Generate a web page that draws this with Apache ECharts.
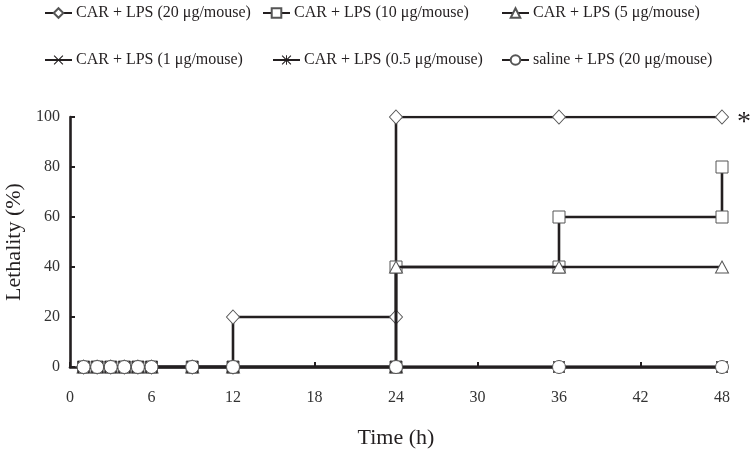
<!DOCTYPE html>
<html>
<head>
<meta charset="utf-8">
<script src="https://cdn.jsdelivr.net/npm/echarts@6/dist/echarts.min.js"></script>
<style>html,body{margin:0;padding:0;background:#fff}#c{width:755px;height:455px}</style>
</head>
<body>
<div id="c"></div>
<script>
// ---- data ----
const seriesNames = [
  'CAR + LPS (20 μg/mouse)',
  'CAR + LPS (10 μg/mouse)',
  'CAR + LPS (5 μg/mouse)',
  'CAR + LPS (1 μg/mouse)',
  'CAR + LPS (0.5 μg/mouse)',
  'saline + LPS (20 μg/mouse)'
];
const t20 = [1, 2, 3, 4, 5, 6, 9, 12, 12, 24, 24, 36, 48];
const v20 = [0, 0, 0, 0, 0, 0, 0, 0, 20, 20, 100, 100, 100];
const t10 = [1, 2, 3, 4, 5, 6, 9, 12, 24, 24, 36, 36, 48, 48];
const v10 = [0, 0, 0, 0, 0, 0, 0, 0, 0, 40, 40, 60, 60, 80];
const t5 = [1, 2, 3, 4, 5, 6, 9, 12, 24, 24, 36, 48];
const v5 = [0, 0, 0, 0, 0, 0, 0, 0, 0, 40, 40, 40];
const t1 = [1, 2, 3, 4, 5, 6, 9, 12, 24, 36, 48];
const v1 = [0, 0, 0, 0, 0, 0, 0, 0, 0, 0, 0];
const t05 = [1, 2, 3, 4, 5, 6, 9, 12, 24, 36, 48];
const v05 = [0, 0, 0, 0, 0, 0, 0, 0, 0, 0, 0];
const tSal = [1, 2, 3, 4, 5, 6, 9, 12, 24, 36, 48];
const vSal = [0, 0, 0, 0, 0, 0, 0, 0, 0, 0, 0];
const xTicks = [0, 6, 12, 18, 24, 30, 36, 42, 48];
const yTicks = [0, 20, 40, 60, 80, 100];
const significanceMark = '*';

// ---- styling ----
const FONT = '"Liberation Serif", "Times New Roman", serif';
const INK = '#231f20';
const X_PATH = 'path://M0,1.6 L1.6,0 L10,8.4 L18.4,0 L20,1.6 L11.6,10 L20,18.4 L18.4,20 L10,11.6 L1.6,20 L0,18.4 L8.4,10 Z';
const STAR_PATH = 'path://M0,1.6 L1.6,0 L10,8.4 L18.4,0 L20,1.6 L11.6,10 L20,18.4 L18.4,20 L10,11.6 L1.6,20 L0,18.4 L8.4,10 Z M9,0 L11,0 L11,20 L9,20 Z M0,9 L20,9 L20,11 L0,11 Z';

function pairs(t, v) { return t.map((x, i) => [x, v[i]]); }

const openMarker = { color: '#fff', borderColor: '#555', borderWidth: 1 };
const solidMarker = { color: INK, borderWidth: 0 };

const d20 = pairs(t20, v20);
d20[d20.length - 1] = {
  value: d20[d20.length - 1],
  label: {
    show: true, position: 'right', distance: 8, formatter: significanceMark,
    fontFamily: FONT, fontSize: 28, color: INK, offset: [0, 6]
  }
};

const defs = [
  { data: d20, symbol: 'diamond', size: [13, 14], item: openMarker },
  { data: pairs(t10, v10), symbol: 'rect', size: 12, item: openMarker },
  { data: pairs(t5, v5), symbol: 'triangle', size: [13, 12], item: openMarker },
  { data: pairs(t1, v1), symbol: X_PATH, size: 12, item: solidMarker },
  { data: pairs(t05, v05), symbol: STAR_PATH, size: 12, item: solidMarker },
  { data: pairs(tSal, vSal), symbol: 'circle', size: 13, item: openMarker }
];

const series = defs.map((d, i) => ({
  name: seriesNames[i],
  type: 'line',
  data: d.data,
  symbol: d.symbol,
  symbolSize: d.size,
  showAllSymbol: true,
  itemStyle: d.item,
  lineStyle: { color: INK, width: 2.6 },
  emphasis: { disabled: true },
  animation: false,
  z: 2 + i
}));

// legend positions (layout only)
const legendPos = [
  { left: 44, top: 5 }, { left: 262, top: 5 }, { left: 501, top: 5 },
  { left: 44, top: 52 }, { left: 272, top: 52 }, { left: 501, top: 52 }
];
const legends = seriesNames.map((n, i) => ({
  data: [n],
  left: legendPos[i].left,
  top: legendPos[i].top,
  padding: 0,
  itemWidth: 27,
  itemHeight: 12,
  itemGap: 0,
  selectedMode: false,
  textStyle: { fontFamily: FONT, fontSize: 16, color: INK, padding: [0, 0, 0, -1] }
}));

const chart = echarts.init(document.getElementById('c'), null, { renderer: 'canvas' });
chart.setOption({
  backgroundColor: '#fff',
  animation: false,
  legend: legends,
  grid: { left: 70, right: 33, top: 117, bottom: 88, containLabel: false, outerBoundsMode: 'none' },
  xAxis: {
    type: 'value', min: xTicks[0], max: xTicks[xTicks.length - 1],
    interval: xTicks[1] - xTicks[0],
    name: 'Time (h)', nameLocation: 'middle', nameGap: 60,
    nameTextStyle: { fontFamily: FONT, fontSize: 22, color: INK },
    axisLine: { lineStyle: { color: INK, width: 2.6 } },
    axisTick: { inside: true, length: 5, lineStyle: { color: INK, width: 2 } },
    axisLabel: { fontFamily: FONT, fontSize: 16, color: '#333', margin: 23 },
    splitLine: { show: false }
  },
  yAxis: {
    type: 'value', min: yTicks[0], max: yTicks[yTicks.length - 1],
    interval: yTicks[1] - yTicks[0],
    name: 'Lethality (%)', nameLocation: 'middle', nameGap: 44,
    nameTextStyle: { fontFamily: FONT, fontSize: 22, color: INK },
    axisLine: { show: true, lineStyle: { color: INK, width: 2.6 } },
    axisTick: { show: true, inside: true, length: 5, lineStyle: { color: INK, width: 2 } },
    axisLabel: { fontFamily: FONT, fontSize: 16, color: '#333', margin: 10 },
    splitLine: { show: false }
  },
  series: series
});
</script>
</body>
</html>
